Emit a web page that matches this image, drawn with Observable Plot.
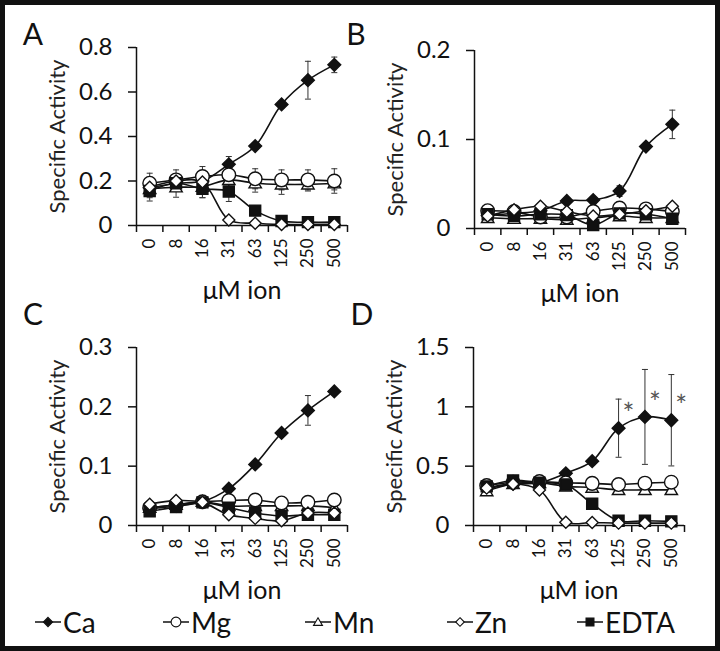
<!DOCTYPE html>
<html><head><meta charset="utf-8">
<script src="https://cdn.jsdelivr.net/npm/d3@7"></script>
<script src="https://cdn.jsdelivr.net/npm/@observablehq/plot@0.6"></script>
<style>
body{margin:0;background:#fff;}
#page{position:relative;width:720px;height:651px;overflow:hidden;font-family:Lato,sans-serif;color:#111;background:#fff;}
#frame{position:absolute;left:0;top:0;width:720px;height:651px;box-sizing:border-box;border:5px solid #111;pointer-events:none;}
.panel{position:absolute;}
.letter{position:absolute;font-size:30px;transform:translate(-50%,-50%);line-height:1;}
.leg{position:absolute;top:622px;transform:translateY(-50%);display:flex;align-items:center;font-size:28px;line-height:1;}
.leg svg{margin-right:1px;}
</style></head><body><div id="page"><div id="frame"></div></div>
<script>
// ---------- data ----------
const cats = ["0","8","16","31","63","125","250","500"];
const seriesNames = ["Ca","Mg","Mn","Zn","EDTA"];

// Panel A
const yTicksA = [0,0.2,0.4,0.6,0.8];
const caA   = [0.17,0.19,0.20,0.275,0.357,0.544,0.653,0.722];
const caErrA= [0.03,0.035,0.04,0.035,0.015,0.015,0.085,0.035];
const mgA   = [0.19,0.205,0.22,0.228,0.21,0.205,0.205,0.20];
const mgErrA= [0.045,0.045,0.045,0.04,0.045,0.045,0.045,0.055];
const mnA   = [0.165,0.172,0.175,0.205,0.19,0.185,0.185,0.19];
const mnErrA= [0.04,0.045,0.05,0.04,0.04,0.045,0.03,0.03];
const znA   = [0.172,0.20,0.195,0.025,0.01,0.005,0.005,0.005];
const znErrA= [0.03,0.03,0.04,0,0,0,0,0];
const edtaA = [0.155,0.19,0.165,0.153,0.067,0.02,0.015,0.015];
const edtaErrA=[0.045,0.02,0.04,0.045,0.02,0,0,0];

// Panel B
const yTicksB = [0,0.1,0.2];
const caB   = [0.015,0.017,0.02,0.031,0.032,0.042,0.092,0.117];
const caErrB= [0.002,0.002,0.002,0.002,0.002,0.006,0.004,0.016];
const mgB   = [0.02,0.019,0.013,0.013,0.019,0.023,0.022,0.019];
const mnB   = [0.012,0.011,0.011,0.01,0.012,0.014,0.012,0.012];
const znB   = [0.014,0.021,0.025,0.019,0.014,0.016,0.02,0.025];
const edtaB = [0.016,0.014,0.016,0.015,0.004,0.017,0.016,0.011];

// Panel C
const yTicksC = [0,0.1,0.2,0.3];
const caC   = [0.028,0.033,0.04,0.062,0.103,0.156,0.194,0.226];
const caErrC= [0,0,0,0.004,0.004,0.004,0.025,0.004];
const mgC   = [0.03,0.035,0.04,0.042,0.043,0.038,0.039,0.043];
const mnC   = [0.03,0.035,0.04,0.033,0.033,0.033,0.033,0.03];
const znC   = [0.036,0.042,0.039,0.018,0.012,0.008,0.021,0.021];
const edtaC = [0.024,0.031,0.039,0.03,0.021,0.016,0.018,0.018];

// Panel D
const yTicksD = [0,0.5,1,1.5];
const caD   = [0.31,0.35,0.36,0.44,0.542,0.82,0.915,0.887];
const caErrD= [0.02,0.02,0.02,0.03,0.03,0.245,0.4,0.385];
const caSigD= ["","","","","","*","*","*"];
const mgD   = [0.337,0.365,0.37,0.36,0.355,0.345,0.357,0.365];
const mnD   = [0.29,0.35,0.36,0.33,0.32,0.30,0.30,0.30];
const znD   = [0.315,0.35,0.30,0.028,0.025,0.02,0.02,0.02];
const edtaD = [0.33,0.38,0.36,0.345,0.183,0.04,0.04,0.035];

const xLabel = "μM ion";
const yLabel = "Specific Activity";

// ---------- symbols ----------
const rad = s => Math.sqrt(s/Math.PI);
const symDiamond = {draw(c,s){const r=rad(s);c.moveTo(0,-r);c.lineTo(r,0);c.lineTo(0,r);c.lineTo(-r,0);c.closePath();}};
const symCircle  = {draw(c,s){const r=rad(s);c.moveTo(r,0);c.arc(0,0,r,0,2*Math.PI);c.closePath();}};
const symSquare  = {draw(c,s){const r=rad(s);c.rect(-r,-r,2*r,2*r);}};
const symTriangle= {draw(c,s){const r=rad(s);c.moveTo(0,-r*0.95);c.lineTo(r,r*0.75);c.lineTo(-r,r*0.75);c.closePath();}};
const symCap     = {draw(c,s){const r=rad(s);c.moveTo(-r,0);c.lineTo(r,0);}};

const style = {
  Ca:   {symbol: symDiamond, fill: "#111", r: 6.4},
  Mg:   {symbol: symCircle,  fill: "#fff", r: 6.8},
  Mn:   {symbol: symTriangle,fill: "#fff", r: 6.2},
  Zn:   {symbol: symDiamond, fill: "#fff", r: 6},
  EDTA: {symbol: symSquare,  fill: "#111", r: 5.5}
};
const drawOrder = ["Ca","Mn","Mg","EDTA","Zn"];

function rowsFor(series){
  const rows = [];
  for (const [name, vals, errs, sig] of series){
    vals.forEach((v,i)=>rows.push({series:name, i, x:i+0.5, y:v, e: errs ? errs[i] : 0, sig: sig ? sig[i] : ""}));
  }
  return rows;
}

const panels = [
  {left:0,   top:0,   ymax:0.8, ticks:yTicksA, letter:"A", lx:33,  ly:33,
   series:[["Ca",caA,caErrA],["Mg",mgA,mgErrA],["Mn",mnA,mnErrA],["Zn",znA,znErrA],["EDTA",edtaA,edtaErrA]]},
  {left:338, top:3,   ymax:0.2, ticks:yTicksB, letter:"B", lx:356, ly:33,
   series:[["Ca",caB,caErrB],["Mg",mgB],["Mn",mnB],["Zn",znB],["EDTA",edtaB]]},
  {left:0,   top:300, ymax:0.3, ticks:yTicksC, letter:"C", lx:33,  ly:313,
   series:[["Ca",caC,caErrC],["Mg",mgC],["Mn",mnC],["Zn",znC],["EDTA",edtaC]]},
  {left:337, top:300, ymax:1.5, ticks:yTicksD, letter:"D", lx:362, ly:313,
   series:[["Ca",caD,caErrD,caSigD],["Mg",mgD],["Mn",mnD],["Zn",znD],["EDTA",edtaD]]}
];

const page = document.getElementById("page");

for (const p of panels){
  const rows = rowsFor(p.series);
  const errRows = rows.filter(d => d.e > 0);
  const marks = [
    Plot.ruleX([0], {stroke:"#111", strokeWidth:1.5}),
    Plot.ruleY([0], {stroke:"#111", strokeWidth:1.5}),
    Plot.axisY({ticks:p.ticks, tickSize:8, tickPadding:16, fontSize:24, label:null, stroke:"#111", strokeWidth:1.5, tickFormat:d=>String(d)}),
    Plot.axisX({ticks:d3.range(cats.length+1), tickSize:7, tickFormat:()=>"", label:null, stroke:"#111", strokeWidth:1.5}),
    Plot.axisX({ticks:cats.map((c,i)=>i+0.5), tickFormat:d=>cats[Math.round(d-0.5)], tickSize:0, tickPadding:13, tickRotate:-90, fontSize:17, label:null}),
    Plot.text([yLabel], {text:d=>d, frameAnchor:"left", dx:-79, rotate:-90, textAnchor:"middle", lineAnchor:"middle", fontSize:22, fill:"#222"}),
    Plot.text([xLabel], {text:d=>d, frameAnchor:"bottom", dy:65, textAnchor:"middle", lineAnchor:"middle", fontSize:25, fill:"#111"}),
    Plot.line(rows, {x:"x", y:"y", z:"series", curve:"catmull-rom", stroke:"#111", strokeWidth:1.6}),
    Plot.ruleX(errRows, {x:"x", y1:d=>d.y-d.e, y2:d=>d.y+d.e, stroke:"#333", strokeWidth:1}),
    Plot.dot(errRows, {x:"x", y:d=>d.y+d.e, symbol:symCap, r:3, stroke:"#333", fill:"none", strokeWidth:1}),
    Plot.dot(errRows, {x:"x", y:d=>d.y-d.e, symbol:symCap, r:3, stroke:"#333", fill:"none", strokeWidth:1})
  ];
  for (const name of drawOrder){
    const s = style[name];
    marks.push(Plot.dot(rows.filter(d=>d.series===name), {x:"x", y:"y", symbol:s.symbol, r:s.r, fill:s.fill, stroke:"#111", strokeWidth:1.4}));
  }
  marks.push(Plot.text(rows.filter(d=>d.sig), {x:"x", y:"y", text:"sig", dx:10, dy:-13, fontSize:28, fill:"#555"}));

  const chart = Plot.plot({
    width:360, height:300,
    marginLeft:136, marginTop:47, marginRight:13, marginBottom:75,
    x:{type:"linear", domain:[0,cats.length], axis:null},
    y:{domain:[0,p.ymax], axis:null},
    style:{background:"transparent", fontFamily:"Lato, sans-serif", color:"#111", overflow:"visible"},
    marks
  });
  const wrap = document.createElement("div");
  wrap.className = "panel";
  wrap.style.left = p.left + "px";
  wrap.style.top = p.top + "px";
  wrap.appendChild(chart);
  page.appendChild(wrap);

  const L = document.createElement("div");
  L.className = "letter";
  L.textContent = p.letter;
  L.style.left = p.lx + "px";
  L.style.top = p.ly + "px";
  page.appendChild(L);
}

// ---------- legend ----------
const legendLeft = [35,163,305,447,577];
seriesNames.forEach((name,k)=>{
  const s = style[name];
  const item = document.createElement("div");
  item.className = "leg";
  item.style.left = legendLeft[k] + "px";
  const svg = d3.create("svg").attr("width",27).attr("height",20);
  svg.append("line").attr("x1",0).attr("x2",26).attr("y1",10).attr("y2",10).attr("stroke","#111").attr("stroke-width",1.5);
  const sz = Math.PI*Math.pow(s.r*0.72,2);
  svg.append("path").attr("transform","translate(13,10)")
     .attr("d", d3.symbol(s.symbol, sz)())
     .attr("fill", s.fill).attr("stroke","#111").attr("stroke-width",1.1);
  item.appendChild(svg.node());
  const t = document.createElement("span");
  t.textContent = name;
  item.appendChild(t);
  page.appendChild(item);
});
</script>
</body></html>
